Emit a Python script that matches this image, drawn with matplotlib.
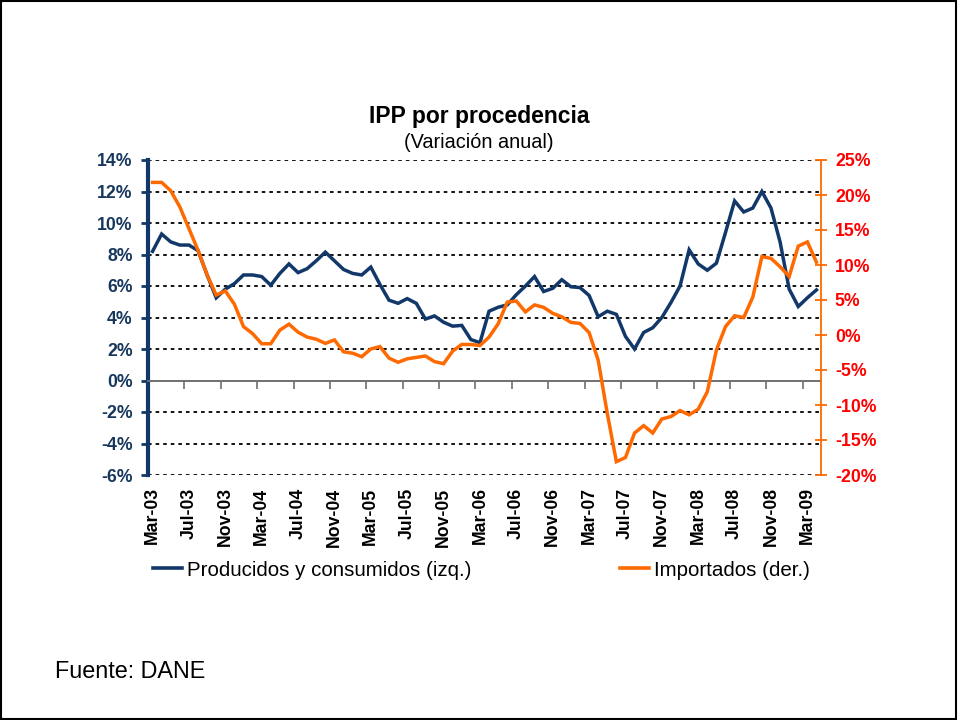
import matplotlib
matplotlib.use("Agg")
import matplotlib.pyplot as plt
from matplotlib.lines import Line2D
from matplotlib.patches import Rectangle
import numpy as np

plt.rcParams["font.family"] = ["Liberation Sans", "DejaVu Sans"]

# Monthly categories, Mar-03 .. Apr-09
months = ["Jan", "Feb", "Mar", "Apr", "May", "Jun", "Jul", "Aug", "Sep", "Oct", "Nov", "Dec"]
dates = [f"{months[(2 + i) % 12]}-{(3 + (2 + i) // 12):02d}" for i in range(74)]

# Producidos y consumidos (left axis, %)
producidos = [
    8.2, 9.3, 8.8, 8.6, 8.6, 8.25, 6.7, 5.25, 5.8, 6.15,
    6.7, 6.7, 6.6, 6.05, 6.8, 7.4, 6.85, 7.1, 7.6, 8.15,
    7.6, 7.05, 6.8, 6.7, 7.2, 6.1, 5.1, 4.9, 5.2, 4.9,
    3.9, 4.1, 3.7, 3.45, 3.5, 2.6, 2.4, 4.4, 4.65, 4.8,
    5.45, 6.0, 6.6, 5.65, 5.85, 6.4, 5.95, 5.9, 5.4, 4.05,
    4.4, 4.2, 2.8, 2.0, 3.05, 3.35, 4.0, 4.95, 6.0, 8.3,
    7.4, 7.0, 7.45, 9.4, 11.4, 10.7, 10.95, 12.0, 10.95, 8.8,
    5.8, 4.7, 5.25, 5.75,
]

# Importados (right axis, %)
importados = [
    21.8, 21.8, 20.6, 18.3, 15.2, 12.1, 8.6, 5.7, 6.3, 4.4,
    1.2, 0.2, -1.25, -1.25, 0.7, 1.55, 0.4, -0.3, -0.6, -1.2,
    -0.7, -2.4, -2.6, -3.1, -2.0, -1.65, -3.3, -3.9, -3.4, -3.2,
    -3.0, -3.8, -4.1, -2.3, -1.35, -1.35, -1.5, -0.3, 1.6, 4.7,
    4.85, 3.3, 4.3, 3.95, 3.1, 2.6, 1.8, 1.65, 0.35, -3.6,
    -11.2, -18.1, -17.5, -14.0, -12.95, -14.0, -12.0, -11.65, -10.8, -11.4,
    -10.6, -8.1, -2.15, 1.2, 2.75, 2.5, 5.4, 11.2, 10.95, 9.75,
    8.35, 12.7, 13.3, 10.4,
]

left_ticks = [-6, -4, -2, 0, 2, 4, 6, 8, 10, 12, 14]
right_ticks = [-20, -15, -10, -5, 0, 5, 10, 15, 20, 25]

navy = "#12386A"
navy_lbl = "#17375E"
orange = "#FF6A00"

fig = plt.figure(figsize=(9.58, 7.2), dpi=100)
ax = fig.add_axes([148 / 958, 1 - 475 / 720, (821 - 148) / 958, (475 - 160) / 720])
ax2 = ax.twinx()

x = np.arange(len(dates))

# gridlines (dotted) at every left tick except zero
for v in left_ticks:
    if v != 0:
        ax.axhline(v, color="black", lw=1.3, linestyle=(0, (2, 2.2)), zorder=1)

ax.plot(x, producidos, color=navy, lw=2.5, zorder=3, solid_joinstyle="miter")
ax2.plot(x, importados, color=orange, lw=2.5, zorder=3, solid_joinstyle="miter")

ax.set_xlim(-0.5, len(dates) - 0.5)
ax.set_ylim(-6, 14)
ax2.set_ylim(-20, 25)

# category axis crossing at 0, ticks at category boundaries
ax.spines["bottom"].set_position(("data", 0))
ax.spines["bottom"].set_color("#707070")
ax.spines["bottom"].set_linewidth(1.4)
ax.spines["top"].set_visible(False)
ax.spines["right"].set_visible(False)
ax.set_xticks(np.arange(0, len(dates), 4) - 0.5)
ax.set_xticklabels([])
ax.tick_params(axis="x", direction="out", length=6, width=1.2, color="#707070")

# category labels at the bottom of the plot
sec = ax.secondary_xaxis(0.0)
sec.set_xticks(x[::4])
sec.set_xticklabels(dates[::4], rotation=90, fontsize=12.7, fontweight="bold")
sec.tick_params(axis="x", length=0, pad=9)
sec.spines["bottom"].set_visible(False)

ax.spines["left"].set_color(navy)
ax.spines["left"].set_linewidth(3)
ax.set_yticks(left_ticks)
ax.set_yticklabels([f"{v}%" for v in left_ticks], fontsize=12.7, fontweight="bold", color=navy_lbl)
ax.tick_params(axis="y", direction="out", length=5, width=2, color=navy, pad=6)

for s in ["left", "top", "bottom"]:
    ax2.spines[s].set_visible(False)
ax2.spines["right"].set_color(orange)
ax2.spines["right"].set_linewidth(1.3)
ax2.set_yticks(right_ticks)
ax2.set_yticklabels([f"{v}%" for v in right_ticks], fontsize=12.7, fontweight="bold", color="#FF0000")
ax2.tick_params(axis="y", direction="inout", length=8, width=1.3, color=orange, pad=6)

fig.text(0.5, 1 - 117 / 720, "IPP por procedencia", ha="center", va="center",
         fontsize=16.5, fontweight="bold")
fig.text(0.5, 1 - 142 / 720, "(Variación anual)", ha="center", va="center", fontsize=14.3)

h1 = Line2D([], [], color=navy, lw=2.6)
h2 = Line2D([], [], color=orange, lw=2.6)
leg1 = fig.legend([h1], ["Producidos y consumidos (izq.)"], loc="center left",
                  bbox_to_anchor=(153 / 958, 1 - 570 / 720), frameon=False, fontsize=14.8,
                  handlelength=1.4, handletextpad=0.25, borderpad=0, borderaxespad=0)
leg2 = fig.legend([h2], ["Importados (der.)"], loc="center left",
                  bbox_to_anchor=(620 / 958, 1 - 570 / 720), frameon=False, fontsize=14.8,
                  handlelength=1.4, handletextpad=0.25, borderpad=0, borderaxespad=0)

fig.text(55 / 958, 1 - 672 / 720, "Fuente: DANE", ha="left", va="center", fontsize=16.8)

fig.patches.append(Rectangle((0.001, 0.001), 0.997, 0.997, transform=fig.transFigure,
                             fill=False, edgecolor="black", lw=1.5))

fig.savefig("out.png", dpi=100)
